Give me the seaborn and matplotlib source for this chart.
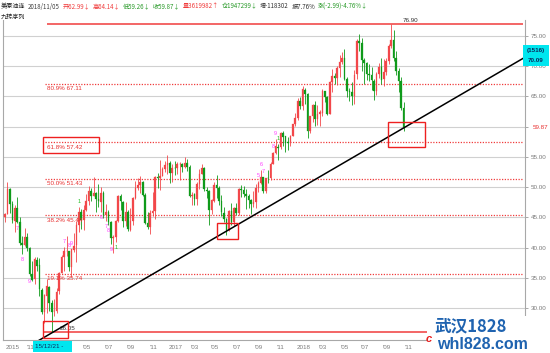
import matplotlib
matplotlib.use("Agg")
import matplotlib.pyplot as plt
import matplotlib.transforms as mtransforms
from matplotlib.patches import Rectangle
import numpy as np
import pandas as pd
import seaborn as sns

# ---------------- data (weekly US crude, week index 0 = 2015-09-28) ----------------
opens_2015 = [45.10, 45.60, 49.70, 47.20, 44.50, 46.50, 44.20, 40.80, 40.50, 41.70, 40.00, 35.70, 34.80, 38.00]
highs_2015 = [45.70, 50.92, 49.80, 47.70, 47.00, 48.40, 45.00, 42.00, 43.20, 42.50, 40.20, 37.80, 38.40, 38.40]
lows_2015 = [44.20, 45.50, 45.70, 44.10, 42.60, 44.10, 40.50, 38.99, 40.30, 39.50, 35.40, 34.53, 33.98, 36.10]
closes_2015 = [45.54, 49.63, 47.26, 44.60, 46.59, 44.29, 40.74, 40.39, 41.71, 39.97, 35.62, 34.73, 38.10, 37.04]

opens_2016 = [37.10, 33.00, 29.40, 32.10, 33.50, 30.90, 29.50, 29.60, 32.80, 35.90, 38.40, 39.40, 39.40,
              36.80, 39.70, 40.40, 43.70, 45.90, 44.60, 46.20, 47.80, 49.30, 48.60, 49.10, 48.00, 47.60,
              49.00, 45.40, 45.90, 44.20, 41.60, 41.80, 44.50, 48.50, 47.60, 44.40, 45.90, 43.00, 44.50,
              48.20, 49.80, 50.30, 50.80, 48.70, 44.10, 43.40, 45.70, 46.10, 51.70, 51.50, 51.90, 53.00]
highs_2016 = [38.39, 33.40, 32.40, 34.82, 33.70, 31.40, 31.50, 33.40, 36.00, 38.82, 40.20, 41.90, 39.50,
              39.80, 42.40, 44.50, 46.78, 46.40, 47.00, 48.90, 50.21, 49.80, 51.67, 49.20, 50.49, 49.95,
              49.30, 47.30, 46.20, 44.40, 42.10, 44.60, 48.75, 48.80, 47.80, 47.60, 46.20, 46.50, 48.30,
              51.00, 51.60, 51.93, 51.00, 49.00, 45.90, 46.30, 49.20, 51.80, 52.40, 54.51, 53.30, 54.30]
lows_2016 = [32.10, 29.13, 27.56, 29.25, 29.60, 26.05, 28.70, 29.30, 32.40, 35.80, 36.20, 38.60, 36.20,
             35.24, 39.30, 37.60, 42.60, 43.03, 43.00, 46.00, 47.10, 47.80, 48.50, 45.83, 46.70, 45.83,
             44.90, 44.40, 43.80, 40.57, 39.19, 41.00, 44.30, 46.20, 43.50, 43.60, 42.70, 42.80, 43.80,
             48.00, 49.60, 49.00, 48.60, 44.00, 43.03, 42.20, 45.30, 44.82, 49.80, 49.50, 51.80, 52.50]
closes_2016 = [33.16, 29.42, 32.19, 33.62, 30.89, 29.44, 29.64, 32.78, 35.92, 38.50, 39.44, 39.46, 36.79,
               39.72, 40.36, 43.73, 45.92, 44.66, 46.21, 47.75, 49.33, 48.62, 49.07, 47.98, 47.64, 48.99,
               45.41, 45.95, 44.19, 41.60, 41.80, 44.49, 48.52, 47.64, 44.44, 45.88, 43.03, 44.48, 48.24,
               49.81, 50.35, 50.85, 48.70, 44.07, 43.41, 45.69, 46.06, 51.68, 51.50, 51.90, 53.02, 53.72]

opens_2017 = [53.70, 54.00, 52.40, 53.20, 53.20, 53.80, 53.90, 53.40, 54.00, 53.30, 48.50, 48.80, 48.00,
              50.60, 52.20, 53.20, 49.60, 49.30, 46.20, 47.80, 50.30, 49.80, 47.70, 45.80, 44.70, 43.00,
              46.00, 44.20, 46.50, 45.80, 49.70, 49.60, 48.80, 48.50, 47.90, 47.30, 47.50, 49.90, 50.70,
              51.70, 49.30, 51.50, 51.50, 53.90, 55.60, 56.70, 56.60, 58.90, 58.40, 57.40, 57.30, 58.50]
highs_2017 = [55.24, 54.40, 53.90, 54.30, 54.20, 54.10, 54.00, 54.94, 54.60, 53.60, 49.20, 49.00, 50.80,
              52.94, 53.76, 53.30, 50.10, 49.60, 48.10, 50.90, 52.00, 50.20, 48.70, 46.80, 44.90, 46.30,
              47.32, 46.70, 47.40, 49.80, 50.43, 50.22, 49.70, 48.80, 48.00, 49.42, 50.50, 51.00, 52.86,
              51.70, 51.60, 52.80, 54.20, 55.80, 57.92, 57.20, 59.05, 59.20, 58.50, 58.30, 58.60, 60.51]
lows_2017 = [52.10, 50.71, 50.91, 52.00, 52.20, 51.22, 52.50, 53.20, 52.70, 48.30, 47.09, 47.01, 47.10,
             49.70, 52.10, 49.40, 48.18, 43.76, 45.50, 47.60, 48.20, 47.10, 45.20, 44.20, 42.05, 42.70,
             43.70, 43.60, 45.40, 45.40, 48.30, 48.40, 46.46, 46.60, 45.58, 46.80, 46.50, 49.20, 50.50,
             49.10, 49.10, 50.70, 51.20, 53.80, 55.50, 54.48, 56.30, 56.75, 55.82, 56.14, 56.80, 58.40]
closes_2017 = [53.99, 52.37, 53.22, 53.17, 53.83, 53.86, 53.40, 53.99, 53.33, 48.49, 48.78, 47.97, 50.60,
               52.24, 53.18, 49.62, 49.33, 46.22, 47.84, 50.33, 49.80, 47.66, 45.83, 44.74, 43.01, 46.04,
               44.23, 46.54, 45.77, 49.71, 49.58, 48.82, 48.51, 47.87, 47.29, 47.48, 49.89, 50.66, 51.67,
               49.29, 51.45, 51.47, 53.90, 55.64, 56.74, 56.55, 58.95, 58.36, 57.36, 57.30, 58.47, 60.42]

opens_2018 = [60.40, 61.40, 64.30, 63.40, 66.10, 65.40, 59.20, 61.70, 63.60, 61.30, 62.00, 62.30, 65.90,
              64.90, 62.10, 67.40, 68.40, 68.10, 69.70, 70.70, 71.30, 67.90, 65.80, 65.70, 65.10, 68.60,
              74.20, 73.80, 71.00, 70.50, 68.70, 68.50, 67.60, 65.90, 68.70, 69.80, 67.80, 69.00, 70.80,
              73.30, 74.30, 71.30, 69.10, 67.60, 62.99]
highs_2018 = [62.21, 64.77, 64.89, 66.66, 66.40, 65.50, 61.80, 63.70, 64.24, 63.50, 62.70, 66.20, 65.90,
              65.10, 67.45, 69.56, 68.80, 70.00, 71.89, 72.30, 72.83, 68.20, 66.30, 67.30, 69.30, 74.46,
              75.27, 74.70, 71.30, 70.70, 70.40, 69.90, 67.80, 69.00, 70.50, 71.40, 71.10, 71.40, 73.60,
              76.90, 75.90, 72.40, 69.70, 68.20, 64.14]
lows_2018 = [60.10, 61.10, 62.90, 62.80, 63.70, 58.07, 58.90, 60.70, 60.10, 60.20, 60.10, 61.70, 64.00,
             61.84, 62.00, 65.70, 67.10, 66.94, 68.20, 70.30, 67.70, 64.90, 64.20, 63.59, 63.80, 67.80,
             72.50, 69.20, 67.03, 67.70, 67.50, 66.10, 64.43, 65.20, 68.00, 67.03, 66.70, 68.50, 70.30,
             73.00, 70.80, 68.47, 65.74, 62.80, 59.26]
closes_2018 = [61.44, 64.30, 63.37, 66.14, 65.45, 59.20, 61.68, 63.55, 61.25, 62.04, 62.34, 65.88, 64.94,
               62.06, 67.39, 68.38, 68.10, 69.72, 70.70, 71.28, 67.88, 65.81, 65.74, 65.06, 68.58, 74.15,
               73.80, 71.01, 70.46, 68.69, 68.49, 67.63, 65.91, 68.72, 69.80, 67.75, 68.99, 70.78, 73.25,
               74.34, 71.34, 69.12, 67.59, 63.14, 59.87]

# month separators (week index) and the labels shown on the date axis
sep_weeks = [0, 5, 14, 23, 31, 40, 49, 58, 66, 75, 83, 92, 101, 110, 118, 127, 136, 144, 153, 162]
label_weeks = [-0.5, 8, 31, 40, 49, 58, 66, 75, 83, 92, 101, 110, 118, 127, 136, 144, 153, 162]
date_labels = ["2015", "'11", "'05", "'07", "'09", "'11", "2017", "'03", "'05", "'07",
               "'09", "'11", "2018", "'03", "'05", "'07", "'09", "'11"]

# Fibonacci retracement
fib_pcts = ["80.9%", "61.8%", "50.0%", "38.2%", "19.1%"]
fib_values = [67.11, 57.42, 51.43, 45.44, 35.74]
swing_high = 76.90
swing_low = 26.05
last_close = 59.87

# trend line (two anchor points)
trend_weeks = [12, 211.4]
trend_prices = [24.3, 71.45]

# TD sequential digits (九转序列)
td_buy_weeks = [5, 7, 10, 39, 41, 42, 43]
td_buy_labels = ["7", "8", "9", "6", "7", "8", "9"]
td_sell_weeks = [24, 26, 27, 103, 104, 105, 109, 110]
td_sell_labels = ["7", "8", "9", "5", "6", "7", "8", "9"]
td_green_up_weeks = [30, 111]
td_green_dn_weeks = [45]

header_parts = ["美原油连", "2018/11/05", "开62.99↓", "高64.14↓", "低59.26↓", "收59.87↓",
                "量3619982↑", "仓1947299↓", "增-118302", "振7.76%", "涨(-2.99)-4.76%↓"]

opens = opens_2015 + opens_2016 + opens_2017 + opens_2018
highs = highs_2015 + highs_2016 + highs_2017 + highs_2018
lows = lows_2015 + lows_2016 + lows_2017 + lows_2018
closes = closes_2015 + closes_2016 + closes_2017 + closes_2018
weeks = list(range(len(closes)))

df = pd.DataFrame(dict(week=weeks, open=opens, high=highs, low=lows, close=closes))
df["up"] = df["close"] >= df["open"]

# ---------------- style ----------------
sns.set_theme(style="white")
plt.rcParams["font.family"] = ["Liberation Sans", "Noto Sans CJK SC", "DejaVu Sans"]
CJK = ["Noto Sans CJK SC", "DejaVu Sans"]

RED = "#f03c3c"
UPC = "#f2474a"
DNC = "#0f9a1a"
GREEN = "#2a9a2a"
GREY = "#7a7a7a"

W, H = 550, 353
fig = plt.figure(figsize=(W / 100, H / 100), dpi=100)
fig.patch.set_facecolor("white")
ax = fig.add_axes([3 / W, 1 - 340 / H, 522 / W, 320 / H])
ax.set_facecolor("white")

ax.set_xlim(-0.813, 211.38)
ax.set_ylim(24.785, 77.59)

# grid & axes
ax.set_axisbelow(True)
yt = np.arange(30, 76, 5)
ax.set_yticks(yt)
ax.yaxis.tick_right()
ax.set_yticklabels(["" if v == 60 else f"{v:.2f}" for v in yt], fontsize=4.5, color=GREY)
ax.tick_params(axis="y", length=2.5, width=0.6, color="#9a9a9a", pad=1.5, direction="out")
ax.grid(axis="y", color="#d0d0d0", lw=0.8)
ax.grid(axis="x", visible=False)
ax.set_xticks(sep_weeks)
ax.set_xticklabels([])
ax.tick_params(axis="x", length=8, width=0.6, color="#a0a0a0", direction="out")
for s in ["left", "right", "bottom"]:
    ax.spines[s].set_color("#a8a8a8")
    ax.spines[s].set_linewidth(0.8)
ax.spines["top"].set_visible(False)

bt = mtransforms.blended_transform_factory(ax.transData, ax.transAxes)
for w, lab in zip(label_weeks, date_labels):
    ax.text(w + 0.6, -0.024, lab, transform=bt, fontsize=4.5, color=GREY, ha="left", va="center", clip_on=False)

# candles
for is_up, color in [(True, UPC), (False, DNC)]:
    d = df[df["up"] == is_up]
    ax.vlines(d["week"], d["low"], d["high"], color=color, lw=0.6, zorder=3)
    body = np.maximum((d["close"] - d["open"]).abs(), 0.08)
    ax.bar(d["week"], body, bottom=np.minimum(d["open"], d["close"]), width=0.66,
           color=color, edgecolor=color, linewidth=0.2, zorder=4)

# Fibonacci levels
ax.hlines(fib_values, 16.3, 210.6, colors=RED, linestyles=(0, (1, 1.2)), lw=0.9, zorder=2)
for p, v in zip(fib_pcts, fib_values):
    ax.text(16.9, v - 0.45, f"{p} {v:.2f}", fontsize=4.5, color="#e83030", ha="left", va="top", zorder=5)
ax.hlines([swing_high], 17.0, 210.6, colors=RED, lw=1.1, zorder=2)
ax.hlines([swing_low], 15.4, 210.6, colors=RED, lw=1.1, zorder=2)
ax.text(161.6, swing_high + 0.15, f"{swing_high:.2f}", fontsize=4.5, color="#303030", ha="left", va="bottom")
ax.text(22.4, swing_low + 0.3, f"{swing_low:.2f}", fontsize=4.5, color="#303030", ha="left", va="bottom")

# trend line
sns.lineplot(x=trend_weeks, y=trend_prices, color="black", lw=1.1, ax=ax, legend=False, zorder=6)

# red annotation boxes
for (x0, y0, x1, y1) in [(15.4, 55.6, 38.2, 58.3), (15.4, 25.1, 25.6, 27.9),
                         (86.2, 41.45, 94.7, 44.1), (155.7, 56.6, 170.7, 60.76)]:
    ax.add_patch(Rectangle((x0, y0), x1 - x0, y1 - y0, fill=False, ec="#ee2020", lw=1.0, zorder=7))

# TD sequential digits
for w, lab in zip(td_buy_weeks, td_buy_labels):
    ax.text(w, df.loc[w, "low"] - 0.5, lab, fontsize=4, color="#ff3cff", ha="center", va="top", zorder=5)
for w, lab in zip(td_sell_weeks, td_sell_labels):
    ax.text(w, df.loc[w, "high"] + 0.5, lab, fontsize=4, color="#ff3cff", ha="center", va="bottom", zorder=5)
for w in td_green_up_weeks:
    ax.text(w, df.loc[w, "high"] + 0.5, "1", fontsize=4, color="#22c022", ha="center", va="bottom", zorder=5)
for w in td_green_dn_weeks:
    ax.text(w, df.loc[w, "low"] - 0.5, "1", fontsize=4, color="#22c022", ha="center", va="top", zorder=5)

# last price label on the right axis
rt = mtransforms.blended_transform_factory(ax.transAxes, ax.transData)
ax.text(1 + 8 / 522, last_close, f"{last_close:.2f}", transform=rt, fontsize=4.5, color="#e83030",
        ha="left", va="center", clip_on=False)

# cyan trend-value box on the right
fig.add_artist(Rectangle((523 / W, 1 - 66 / H), 26 / W, 21 / H, transform=fig.transFigure,
                         fc="#00e6ef", ec="none", zorder=10))
fig.text(536 / W, 1 - 50.5 / H, "(1516)", fontsize=4.5, color="#0b2a5e", ha="center", va="center",
         weight="bold", zorder=11)
fig.text(536 / W, 1 - 60.5 / H, "70.09", fontsize=4.5, color="#0b2a5e", ha="center", va="center",
         weight="bold", zorder=11)

# cyan date box at the bottom
fig.add_artist(Rectangle((33 / W, 1 - 352 / H), 39 / W, 11 / H, transform=fig.transFigure,
                         fc="#00e6ef", ec="none", zorder=10))
fig.text(35 / W, 1 - 346.5 / H, "15/12/21 -", fontsize=4.5, color="#0b2a5e", ha="left", va="center",
         zorder=11)

# header (segments laid out one after another)
header_c = ["#202020", "#404040", RED, RED, GREEN, GREEN, RED, GREEN, "#303030", "#303030", GREEN]
renderer = fig.canvas.get_renderer()
xpos = 1.0
for t, c in zip(header_parts, header_c):
    txt = fig.text(xpos / W, 1 - 6.5 / H, t, fontsize=4.4, color=c, ha="left", va="center", family=CJK)
    xpos += txt.get_window_extent(renderer).width + 2.5
fig.text(1 / W, 1 - 16.5 / H, "九转序列", fontsize=4.4, color="#202020", ha="left", va="center", family=CJK)

# watermark
fig.add_artist(Rectangle((427 / W, 0), 123 / W, 37 / H, transform=fig.transFigure,
                         fc="white", ec="none", zorder=12))
fig.text(426 / W, 1 - 339 / H, "c", fontsize=8, color="#e82020", style="italic", weight="bold",
         ha="left", va="center", zorder=13)
fig.text(434 / W, 1 - 326 / H, "武汉1828", fontsize=12, color="#1f63b0", weight="bold",
         ha="left", va="center", family=CJK, zorder=13)
fig.text(437 / W, 1 - 344.5 / H, "whl828.com", fontsize=11.5, color="#1f63b0", weight="bold",
         ha="left", va="center", zorder=13)

fig.savefig("out.png", dpi=100)
